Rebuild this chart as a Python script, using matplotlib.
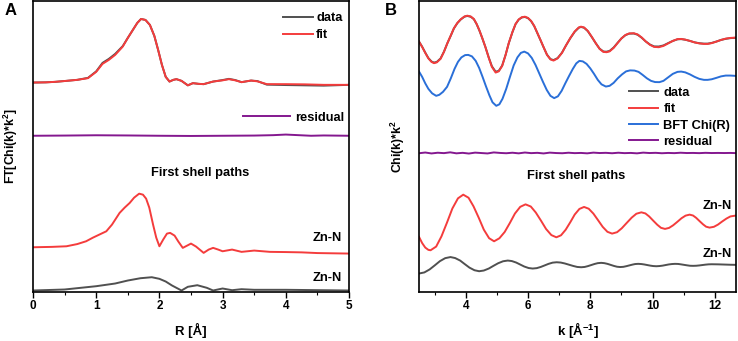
import matplotlib
matplotlib.use("Agg")
import matplotlib.pyplot as plt
import numpy as np
from matplotlib.ticker import MultipleLocator

plt.rcParams['font.family'] = ['Liberation Sans', 'DejaVu Sans']
plt.rcParams['font.weight'] = 'bold'
plt.rcParams['mathtext.fontset'] = 'custom'
plt.rcParams['mathtext.rm'] = 'Liberation Sans:bold'
plt.rcParams['mathtext.bf'] = 'Liberation Sans:bold'
plt.rcParams['mathtext.default'] = 'bf'

# colours
c_data = '#505050'
c_fit = '#F43C3C'
c_bft = '#2A6FD8'
c_res = '#84188F'

# ---- panel A : FT magnitude vs R ----
R_top = [0, 0.2, 0.35, 0.53, 0.7, 0.87, 1.0, 1.1, 1.2, 1.3, 1.42, 1.5, 1.58, 1.65, 1.71, 1.78,
         1.85, 1.92, 1.98, 2.04, 2.1, 2.16, 2.22, 2.27, 2.35, 2.45, 2.53, 2.62, 2.7, 2.85, 3.0,
         3.1, 3.2, 3.3, 3.45, 3.55, 3.7, 4.0, 4.3, 4.6, 5.0]
ft_fit = [209.3, 209.5, 210, 211, 212, 213.7, 220, 228, 232, 237, 245.3, 254, 262, 269, 273, 272,
          267, 256, 242, 227, 215, 210.3, 212, 212.7, 211, 206.5, 208.7, 208, 207.7, 210.3, 211.5,
          212.7, 211.5, 209.7, 211.3, 210.5, 207.7, 207.7, 207.5, 207, 207]
ft_data = [209.3, 209.5, 210, 211, 212, 214, 220.5, 229, 233, 238, 245.8, 254, 262, 269, 273, 272,
           267, 256, 242, 227, 215, 210.3, 212, 212.7, 211, 206.5, 208.7, 208, 207.7, 210.3, 211.8,
           213, 211.8, 209.7, 211.3, 210.8, 207.2, 206.8, 206.5, 206.2, 207]

R_res = [0, 0.5, 1.0, 1.5, 2.0, 2.5, 3.0, 3.5, 3.8, 4.0, 4.2, 4.4, 4.6, 5.0]
ft_res = [156, 156.2, 156.5, 156.3, 156, 155.8, 156, 156.2, 156.6, 157.2, 156.6, 156, 156.3, 156]

R_zn = [0, 0.3, 0.53, 0.7, 0.84, 0.95, 1.05, 1.16, 1.25, 1.37, 1.45, 1.53, 1.6, 1.68, 1.74, 1.79,
        1.84, 1.9, 1.95, 2.0, 2.06, 2.12, 2.17, 2.24, 2.3, 2.37, 2.44, 2.5, 2.58, 2.7, 2.78, 2.85,
        2.93, 3.0, 3.15, 3.3, 3.5, 3.75, 4.0, 4.25, 4.5, 5.0]
ft_zn_red = [44.3, 44.7, 45.3, 47.5, 50.3, 54, 57, 60.3, 67, 78.7, 84, 88.7, 94, 98, 97, 93,
             84, 67, 54, 45.3, 52, 58, 58.7, 56, 50, 43.7, 46, 48, 45, 38.7, 42, 43.7,
             42, 40.3, 42, 39.7, 41, 39.7, 39.5, 39.2, 38.5, 38]

R_zn2 = [0, 0.5, 1.0, 1.3, 1.5, 1.7, 1.88, 2.0, 2.1, 2.2, 2.35, 2.45, 2.6, 2.75, 2.85, 3.0, 3.15,
         3.3, 3.5, 4.0, 5.0]
ft_zn_gray = [1, 2, 5.3, 8, 11, 13.3, 14.3, 12.7, 10, 6, 1, 4.7, 6.3, 3.7, 1, 3, 1.3, 2.3, 1.7, 1.7, 1]

# ---- panel B : chi(k)*k^2 ----
k_top = [2.50, 2.60, 2.70, 2.80, 2.90, 2.98, 3.07, 3.19, 3.30, 3.41,
         3.52, 3.62, 3.73, 3.84, 3.96, 4.05, 4.16, 4.26, 4.35, 4.44,
         4.53, 4.63, 4.74, 4.84, 4.96, 5.06, 5.17, 5.28, 5.38, 5.50,
         5.60, 5.70, 5.80, 5.90, 6.00, 6.10, 6.20, 6.30, 6.40, 6.51,
         6.61, 6.72, 6.82, 6.95, 7.09, 7.22, 7.36, 7.50, 7.63, 7.70,
         7.80, 7.92, 8.05, 8.18, 8.30, 8.42, 8.52, 8.62, 8.75, 8.88,
         9.00, 9.13, 9.25, 9.40, 9.52, 9.65, 9.78, 9.92, 10.05, 10.20,
         10.35, 10.50, 10.65, 10.80, 10.92, 11.05, 11.20, 11.35, 11.50, 11.65,
         11.77, 11.90, 12.05, 12.20, 12.35, 12.50, 12.66]
chi_fit = [250.3, 245, 239, 233.5, 230, 228.7, 229.5, 233, 240, 248.7,
           256.5, 263.7, 269, 272.7, 275.5, 276.3, 275.5, 273, 268, 261.5,
           254, 245, 234, 225, 219.3, 220.5, 226, 237, 248.7, 260,
           268, 272.5, 274.7, 275.3, 274, 271, 266, 259, 252, 244,
           237, 232.5, 231.3, 233.5, 239, 246.5, 254, 260.5, 264.5, 265.3,
           264.5, 261, 255, 248.5, 243, 240, 239.7, 240.5, 244, 249,
           253.5, 257, 258.5, 258.7, 257.5, 254.5, 250.5, 247, 245, 244.7,
           246, 248.5, 251, 252.8, 253, 252.3, 251, 249.5, 248.5, 248,
           248, 248.8, 250.3, 252, 253.3, 254, 254.3]
chi_data = [250.3, 245.2, 239.3, 233.8, 230.4, 229.3, 230, 233.4, 240.2, 248.7,
            256.3, 263.5, 268.8, 272.5, 275.3, 276, 275.2, 272.8, 267.8, 261.3,
            253.8, 245, 234.3, 225.6, 220.2, 221, 226.3, 237, 248.5, 259.8,
            267.8, 272.3, 274.5, 275, 273.8, 270.8, 265.8, 258.8, 251.8, 244,
            237.2, 232.8, 231.8, 233.8, 239.2, 246.5, 253.8, 260.2, 264.2, 265,
            264.2, 260.8, 254.8, 248.5, 243.2, 240.4, 240.2, 241, 244.4, 249.2,
            253.5, 256.8, 258.3, 258.4, 257.2, 254.2, 250.5, 247.3, 245.5, 245.4,
            246.5, 248.8, 251, 252.6, 252.8, 252.2, 251, 249.6, 248.7, 248.3,
            248.3, 249, 250.4, 252, 253.1, 253.8, 254.1]

k_bft = [2.50, 2.60, 2.70, 2.80, 2.92, 3.05, 3.15, 3.27, 3.40, 3.52,
         3.64, 3.75, 3.86, 3.98, 4.08, 4.20, 4.32, 4.43, 4.54, 4.65,
         4.76, 4.86, 4.98, 5.08, 5.18, 5.30, 5.42, 5.54, 5.66, 5.77,
         5.88, 6.00, 6.12, 6.24, 6.36, 6.48, 6.60, 6.72, 6.84, 6.96,
         7.08, 7.20, 7.32, 7.44, 7.55, 7.65, 7.76, 7.88, 8.00, 8.12,
         8.24, 8.36, 8.50, 8.62, 8.75, 8.88, 9.02, 9.15, 9.28, 9.42,
         9.55, 9.68, 9.82, 9.95, 10.08, 10.22, 10.35, 10.50, 10.65, 10.80,
         10.92, 11.05, 11.20, 11.35, 11.50, 11.65, 11.77, 11.90, 12.05, 12.20,
         12.35, 12.50, 12.66]
chi_bft = [220.3, 215, 208.5, 203, 198.5, 196, 197, 200, 205, 213.5,
           223, 230, 234.5, 236.8, 237, 235.5, 231, 224, 215, 205.5,
           196.5, 189.5, 186, 187.5, 193, 203, 215, 226.5, 234.5, 239,
           240.3, 238.5, 234, 227, 218.5, 210, 202, 196, 193.7, 195.5,
           201, 208.7, 216, 223, 228.5, 231, 230.5, 228, 223.5, 218,
           212, 207.5, 205.3, 206, 209, 213.5, 217.5, 220.5, 221.5, 221.3,
           220, 217, 213.5, 211, 209.8, 209.7, 211, 214.5, 218, 220,
           220.3, 219.5, 217.5, 215, 213, 212, 212, 212.6, 214, 215.5,
           216.3, 216.3, 216]

k_res = np.arange(2.5, 12.8, 0.2)
chi_res = [138.5, 139.2, 138.3, 139.0, 138.6, 139.4, 138.4, 138.9, 138.2, 139.1,
           138.7, 138.3, 139.3, 138.8, 138.5, 139.0, 138.4, 139.2, 138.6, 138.9,
           138.3, 139.1, 138.7, 138.5, 139.0, 138.6, 138.8, 138.4, 139.1, 138.7,
           138.9, 138.5, 139.0, 138.6, 138.8, 138.4, 139.1, 138.7, 138.9, 138.5,
           138.8, 138.6, 139.0, 138.7, 138.8, 138.6, 138.9, 138.7, 138.8, 138.7,
           138.8, 138.6]

k_zn = [2.50, 2.60, 2.70, 2.80, 2.87, 3.05, 3.22, 3.40, 3.57, 3.75,
        3.92, 4.09, 4.25, 4.42, 4.58, 4.75, 4.91, 5.08, 5.25, 5.42,
        5.58, 5.75, 5.92, 6.09, 6.25, 6.42, 6.58, 6.75, 6.91, 7.06,
        7.21, 7.36, 7.50, 7.65, 7.80, 7.95, 8.10, 8.25, 8.40, 8.55,
        8.70, 8.86, 9.01, 9.17, 9.33, 9.48, 9.64, 9.77, 9.89, 10.02,
        10.15, 10.27, 10.40, 10.53, 10.66, 10.80, 10.93, 11.06, 11.19, 11.30,
        11.40, 11.51, 11.62, 11.72, 11.83, 11.97, 12.10, 12.23, 12.37, 12.50,
        12.66]
chi_zn_red = [54.7, 48.5, 44, 41.7, 41.3, 45, 55.2, 69.2, 83.1, 93.3,
              97, 93.9, 85.3, 73.7, 62, 53.4, 50.3, 53.3, 59.6, 68.8,
              78.1, 84.8, 87.3, 85.1, 79.1, 70.8, 62.6, 56.5, 54.3, 56.3,
              61.9, 69.5, 77.1, 82.7, 84.7, 82.9, 78, 71.4, 64.7, 59.8,
              58, 59.4, 63.3, 68.7, 74, 77.9, 79.3, 78.2, 75.2, 71,
              66.9, 63.8, 62.7, 63.7, 66.3, 69.9, 73.4, 76, 77, 76.1,
              73.8, 70.5, 67.3, 64.9, 64, 64.8, 67, 70, 73, 75.2,
              76]

k_zn2 = [2.50, 2.67, 2.84, 3.01, 3.17, 3.34, 3.51, 3.66, 3.82, 3.97,
         4.12, 4.28, 4.43, 4.58, 4.74, 4.89, 5.04, 5.20, 5.35, 5.48,
         5.62, 5.75, 5.88, 6.02, 6.15, 6.28, 6.41, 6.54, 6.66, 6.79,
         6.92, 7.05, 7.18, 7.32, 7.45, 7.58, 7.71, 7.82, 7.92, 8.03,
         8.14, 8.24, 8.35, 8.45, 8.55, 8.66, 8.76, 8.86, 8.96, 9.06,
         9.15, 9.25, 9.35, 9.44, 9.54, 9.64, 9.73, 9.83, 9.93, 10.02,
         10.12, 10.22, 10.32, 10.42, 10.52, 10.62, 10.72, 10.82, 10.91, 11.01,
         11.11, 11.20, 11.30, 11.40, 11.50, 11.60, 11.70, 11.80, 11.90, 12.10,
         12.30, 12.50, 12.66]
chi_zn_gray = [18, 19.1, 22.1, 26.3, 30.4, 33.4, 34.5, 33.5, 31, 27.4,
               23.9, 21.3, 20.3, 21, 23, 25.7, 28.3, 30.3, 31, 30.5,
               29, 27, 25, 23.5, 23, 23.4, 24.6, 26.2, 27.7, 28.9,
               29.3, 29, 28.1, 26.8, 25.6, 24.6, 24.3, 24.6, 25.4, 26.5,
               27.6, 28.4, 28.7, 28.4, 27.7, 26.6, 25.6, 24.8, 24.5, 24.7,
               25.3, 26.1, 26.9, 27.5, 27.7, 27.5, 27.1, 26.5, 25.9, 25.5,
               25.3, 25.5, 25.9, 26.5, 27.1, 27.5, 27.7, 27.6, 27.2, 26.7,
               26.2, 25.8, 25.7, 25.8, 26.1, 26.5, 26.9, 27.2, 27.3, 27.2,
               27, 26.8, 26.7]

fig = plt.figure(figsize=(7.38, 3.41), dpi=100)
axA = fig.add_axes([0.0447, 0.1437, 0.4282, 0.8534])
axB = fig.add_axes([0.5678, 0.1437, 0.4295, 0.8534])

lw = 1.4
fs = 9.3

# panel A
lA1, = axA.plot(R_top, ft_data, color=c_data, lw=lw, label='data')
lA2, = axA.plot(R_top, ft_fit, color=c_fit, lw=lw, label='fit')
lA3, = axA.plot(R_res, ft_res, color=c_res, lw=lw, label='residual')
axA.plot(R_zn, ft_zn_red, color=c_fit, lw=lw)
axA.plot(R_zn2, ft_zn_gray, color=c_data, lw=lw)
axA.set_xlim(0, 5)
axA.set_ylim(-0.5, 291)
axA.xaxis.set_major_locator(MultipleLocator(1))
axA.xaxis.set_minor_locator(MultipleLocator(0.5))
axA.set_xlabel('R [Å]', fontsize=9.5, fontweight='bold', labelpad=8)
axA.set_ylabel('FT[Chi(k)*k$^2$]', fontsize=8.8, fontweight='bold', labelpad=9.5)
axA.text(2.65, 119, 'First shell paths', ha='center', va='center', fontsize=fs)
axA.text(4.88, 54, 'Zn-N', ha='right', va='center', fontsize=fs)
axA.text(4.88, 14, 'Zn-N', ha='right', va='center', fontsize=fs)
legA = axA.legend(handles=[lA1, lA2], loc='upper right', bbox_to_anchor=(1.0, 0.983), frameon=False,
                  fontsize=fs, handlelength=2.3, handletextpad=0.25, labelspacing=0.36,
                  borderpad=0.3, borderaxespad=0.2)
axA.add_artist(legA)
axA.legend(handles=[lA3], loc='center right', bbox_to_anchor=(1.0, 0.598), frameon=False,
           fontsize=fs, handlelength=3.6, handletextpad=0.4, borderpad=0.2, borderaxespad=0.2)

# panel B
lB1, = axB.plot(k_top, chi_data, color=c_data, lw=lw, label='data')
lB2, = axB.plot(k_top, chi_fit, color=c_fit, lw=lw, label='fit')
lB3, = axB.plot(k_bft, chi_bft, color=c_bft, lw=lw, label='BFT Chi(R)')
lB4, = axB.plot(k_res, chi_res, color=c_res, lw=lw, label='residual')
axB.plot(k_zn, chi_zn_red, color=c_fit, lw=lw)
axB.plot(k_zn2, chi_zn_gray, color=c_data, lw=lw)
axB.set_xlim(2.5, 12.68)
axB.set_ylim(-0.5, 291)
axB.xaxis.set_major_locator(MultipleLocator(2))
axB.xaxis.set_minor_locator(MultipleLocator(1))
axB.set_xlabel('k [Å$^{-1}$]', fontsize=9.5, fontweight='bold', labelpad=5.5)
axB.set_ylabel('Chi(k)*k$^2$', fontsize=8.8, fontweight='bold', labelpad=8.5)
axB.text(7.55, 115.3, 'First shell paths', ha='center', va='center', fontsize=fs)
axB.text(12.55, 85.3, 'Zn-N', ha='right', va='center', fontsize=fs)
axB.text(12.55, 37.7, 'Zn-N', ha='right', va='center', fontsize=fs)
axB.legend(handles=[lB1, lB2, lB3, lB4], loc='center left', bbox_to_anchor=(0.655, 0.6),
           frameon=False, fontsize=fs, handlelength=2.2, handletextpad=0.45, labelspacing=0.33,
           borderpad=0.2, borderaxespad=0.0)

for ax in (axA, axB):
    ax.set_yticks([])
    for sp in ax.spines.values():
        sp.set_linewidth(1.2)
    ax.tick_params(axis='x', which='major', direction='out', length=4, width=1.0,
                   labelsize=8.5, pad=2)
    ax.tick_params(axis='x', which='minor', direction='out', length=2.5, width=0.8)
    for t in ax.get_xticklabels():
        t.set_fontweight('bold')

fig.text(0.006, 0.99, 'A', fontsize=12, fontweight='bold', va='top', ha='left')
fig.text(0.521, 0.99, 'B', fontsize=12, fontweight='bold', va='top', ha='left')

fig.savefig('out.png', dpi=100)
